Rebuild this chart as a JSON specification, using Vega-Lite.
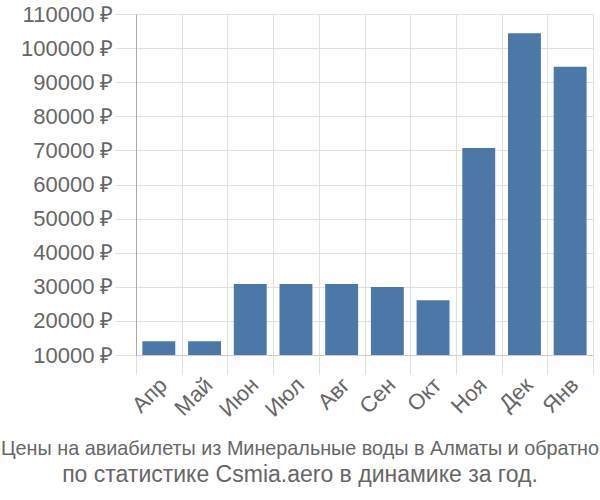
{
  "$schema": "https://vega.github.io/schema/vega-lite/v6.json",
  "width": 457,
  "height": 341,
  "autosize": "none",
  "padding": {"left": 136, "top": 14, "right": 7, "bottom": 145},
  "background": "white",
  "data": {"values": [
    {"month": "Апр", "price": 14000},
    {"month": "Май", "price": 14000},
    {"month": "Июн", "price": 30850},
    {"month": "Июл", "price": 30850},
    {"month": "Авг", "price": 30850},
    {"month": "Сен", "price": 29950},
    {"month": "Окт", "price": 26050},
    {"month": "Ноя", "price": 70700},
    {"month": "Дек", "price": 104350},
    {"month": "Янв", "price": 94550}
  ]},
  "title": {
    "text": "Цены на авиабилеты из Минеральные воды в Алматы и обратно",
    "subtitle": "по статистике Csmia.aero в динамике за год.",
    "orient": "bottom",
    "anchor": "middle",
    "dx": -64.5,
    "font": "Liberation Sans",
    "fontSize": 19.8,
    "fontWeight": "normal",
    "color": "#666666",
    "subtitleFont": "Liberation Sans",
    "subtitleFontSize": 23,
    "subtitleColor": "#666666",
    "subtitlePadding": 5,
    "offset": 19
  },
  "config": {
    "view": {"stroke": null},
    "axis": {
      "labelFont": "Liberation Sans",
      "labelColor": "#666666",
      "gridColor": "#e0e0e0",
      "tickColor": "#e0e0e0",
      "domainColor": "#aaaaaa"
    }
  },
  "mark": {"type": "bar", "width": {"band": 0.72}, "color": "#4c78a8"},
  "encoding": {
    "x": {
      "field": "month",
      "type": "nominal",
      "sort": null,
      "scale": {"paddingInner": 0, "paddingOuter": 0},
      "axis": {
        "title": null,
        "labelAngle": -45,
        "labelFontSize": 22,
        "tickBand": "extent",
        "grid": true,
        "tickSize": 19,
        "labelPadding": 0,
        "labelOffset": -3,
        "domainColor": "#cccccc"
      }
    },
    "y": {
      "field": "price",
      "type": "quantitative",
      "scale": {"domain": [10000, 110000], "zero": false, "nice": false},
      "axis": {
        "title": null,
        "values": [10000, 20000, 30000, 40000, 50000, 60000, 70000, 80000, 90000, 100000, 110000],
        "labelExpr": "datum.value + ' ₽'",
        "labelFontSize": 22,
        "tickSize": 21,
        "labelPadding": 2
      }
    },
    "y2": {"datum": 10000}
  }
}
